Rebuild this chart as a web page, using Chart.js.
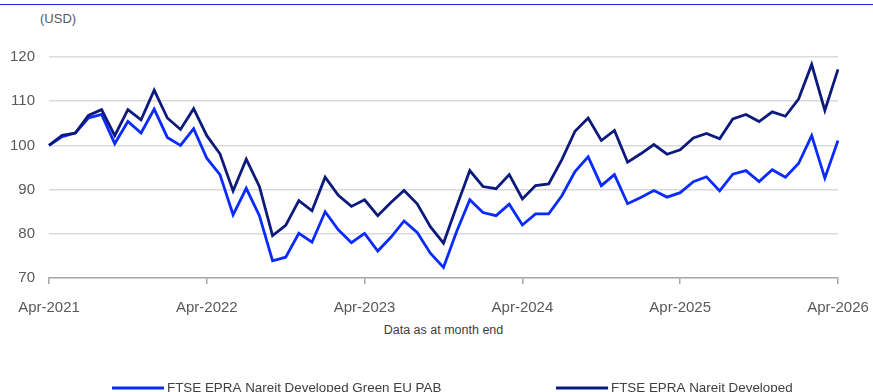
<!DOCTYPE html>
<html>
<head>
<meta charset="utf-8">
<title>FTSE EPRA Nareit Developed Green EU PAB vs FTSE EPRA Nareit Developed</title>
<script src="https://cdn.jsdelivr.net/npm/chart.js@4/dist/chart.umd.min.js"></script>
<style>
  html, body { margin: 0; padding: 0; background: #ffffff; }
  #wrap { position: relative; width: 873px; height: 392px; overflow: hidden; }
  #topRule { position: absolute; left: 0; top: 4px; width: 873px; height: 1px; background: #1a2fd6; }
  #unit { position: absolute; left: 40px; top: 11px; font: 13px "Liberation Sans", Arial, sans-serif; color: #595959; }
  #note { position: absolute; left: 0; width: 873px; top: 323px; text-align: center; font: 12.5px "Liberation Sans", Arial, sans-serif; color: #404040; padding-left: 14px; box-sizing: border-box; }
  canvas { position: absolute; left: 0; top: 0; }
</style>
</head>
<body>
<div id="wrap">
  <div id="topRule"></div>
  <div id="unit">(USD)</div>
  <div id="note">Data as at month end</div>
  <canvas id="c" width="873" height="392"></canvas>
</div>
<script>
// Month-end index levels, rebased to 100 at Apr-2021
const months = [];
const monthNames = ['Jan','Feb','Mar','Apr','May','Jun','Jul','Aug','Sep','Oct','Nov','Dec'];
for (let k = 0; k <= 60; k++) {
  const m = (3 + k) % 12;
  const y = 2021 + Math.floor((3 + k) / 12);
  months.push(monthNames[m] + '-' + y);
}

const greenEuPab = [
  100.0, 102.0, 102.8, 106.2, 107.0, 100.4, 105.4, 102.8, 108.2, 101.8,
  100.0, 103.8, 97.1, 93.4, 84.3, 90.3, 84.1, 73.9, 74.7, 80.1,
  78.1, 85.0, 80.9, 78.0, 80.1, 76.1, 79.2, 82.9, 80.3, 75.6,
  72.4, 80.5, 87.7, 84.8, 84.1, 86.7, 82.0, 84.5, 84.5, 88.6,
  94.1, 97.4, 90.9, 93.4, 86.8, 88.2, 89.8, 88.3, 89.3, 91.8,
  92.9, 89.7, 93.5, 94.3, 91.8, 94.5, 92.8, 95.9, 102.2, 92.6,
  101.1
];

const developed = [
  100.0, 102.3, 102.8, 106.8, 108.1, 102.2, 108.1, 105.8, 112.5, 106.2,
  103.6, 108.3, 102.2, 98.1, 89.7, 96.9, 90.7, 79.6, 81.9, 87.5,
  85.2, 92.8, 88.7, 86.2, 87.7, 84.1, 87.1, 89.8, 86.8, 81.6,
  77.9, 86.2, 94.3, 90.7, 90.2, 93.4, 87.9, 90.9, 91.3, 96.8,
  103.2, 106.2, 101.1, 103.4, 96.2, 98.1, 100.2, 98.0, 99.0, 101.7,
  102.7, 101.5, 106.0, 107.0, 105.4, 107.6, 106.6, 110.5, 118.3, 107.9,
  117.2
];

const seriesNames = ['FTSE EPRA Nareit Developed Green EU PAB', 'FTSE EPRA Nareit Developed'];
const seriesColors = ['#0a2bff', '#0c1a7e'];
const yTicks = [70, 80, 90, 100, 110, 120];

const FONT = '"Liberation Sans", Arial, sans-serif';

// Legend row along the bottom edge
const bottomLegend = {
  id: 'bottomLegend',
  afterDraw(chart) {
    const ctx = chart.ctx;
    const items = [
      { x: 112, label: seriesNames[0], color: seriesColors[0] },
      { x: 556, label: seriesNames[1], color: seriesColors[1] }
    ];
    const y = 388;
    ctx.save();
    ctx.font = '13.4px ' + FONT;
    ctx.textBaseline = 'middle';
    ctx.fillStyle = '#404040';
    items.forEach(it => {
      ctx.strokeStyle = it.color;
      ctx.lineWidth = 3;
      ctx.beginPath();
      ctx.moveTo(it.x, y);
      ctx.lineTo(it.x + 52, y);
      ctx.stroke();
      ctx.fillText(it.label, it.x + 55, y);
    });
    ctx.restore();
  }
};

new Chart(document.getElementById('c'), {
  type: 'line',
  data: {
    labels: months,
    datasets: [
      {
        label: seriesNames[0],
        data: greenEuPab,
        borderColor: seriesColors[0],
        borderWidth: 2.8,
        pointRadius: 0,
        tension: 0,
        order: 1
      },
      {
        label: seriesNames[1],
        data: developed,
        borderColor: seriesColors[1],
        borderWidth: 2.8,
        pointRadius: 0,
        tension: 0,
        order: 0
      }
    ]
  },
  options: {
    responsive: false,
    animation: false,
    devicePixelRatio: 1,
    layout: { padding: { left: 0, right: 35, top: 57, bottom: 0 } },
    plugins: {
      legend: { display: false },
      tooltip: { enabled: false }
    },
    scales: {
      x: {
        type: 'category',
        offset: false,
        afterFit(scale) {
          scale.height = 114;
          scale.paddingLeft = 0;
          scale.paddingRight = 0;
        },
        border: { display: true, color: '#a6a6a6', width: 1.5 },
        grid: {
          drawOnChartArea: false,
          drawTicks: true,
          tickLength: 6,
          color: '#a6a6a6',
          lineWidth: 1.5
        },
        ticks: {
          autoSkip: false,
          maxRotation: 0,
          padding: 15,
          color: '#595959',
          font: { family: FONT, size: 15 },
          callback(value, index) {
            return index % 12 === 0 ? months[index] : null;
          }
        }
      },
      y: {
        min: yTicks[0],
        max: yTicks[yTicks.length - 1],
        afterFit(scale) {
          scale.width = 49;
          scale.paddingTop = 0;
          scale.paddingBottom = 0;
        },
        afterBuildTicks(scale) { scale.ticks = yTicks.map(v => ({ value: v })); },
        border: { display: false },
        grid: {
          drawTicks: false,
          color: ctx => (ctx.tick && ctx.tick.value === yTicks[0]) ? 'rgba(0,0,0,0)' : '#dadada',
          lineWidth: 1.5
        },
        ticks: {
          padding: 14,
          color: '#595959',
          font: { family: FONT, size: 15 }
        }
      }
    }
  },
  plugins: [bottomLegend]
});
</script>
</body>
</html>
